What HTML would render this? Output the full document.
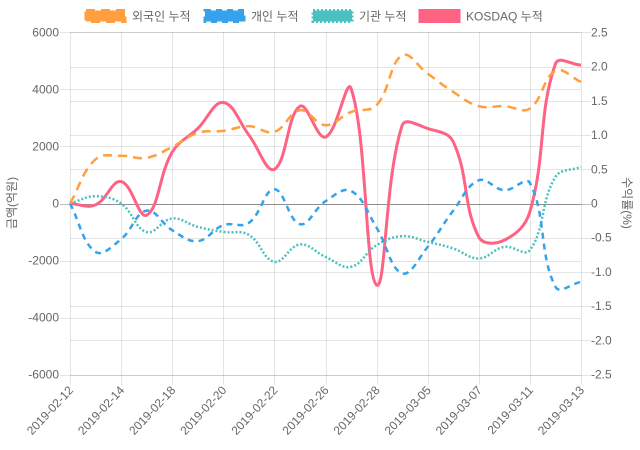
<!DOCTYPE html>
<html>
<head>
<meta charset="utf-8">
<style>
html,body{margin:0;padding:0;background:#fff;}
svg{display:block;}
text{font-family:"Liberation Sans","Noto Sans CJK KR",sans-serif;font-size:12px;fill:#666;}
</style>
</head>
<body>
<svg id="c" width="640" height="450" viewBox="0 0 640 450" xmlns="http://www.w3.org/2000/svg">
<rect x="0" y="0" width="640" height="450" fill="#fff"/>
<g id="grid"></g>
<g id="labels"></g>
<g id="series"></g>
<g id="legend">
  <rect x="86" y="10.5" width="39" height="11" fill="rgb(255,159,64)" stroke="rgb(255,159,64)" stroke-width="3" stroke-dasharray="9,6"/>
  <text x="132" y="20.5">외국인 누적</text>
  <rect x="205" y="10.5" width="39" height="11" fill="rgb(54,162,235)" stroke="rgb(54,162,235)" stroke-width="3" stroke-dasharray="6,5"/>
  <text x="251" y="20.5">개인 누적</text>
  <rect x="313" y="10.5" width="39" height="11" fill="rgb(75,192,192)" stroke="rgb(75,192,192)" stroke-width="3" stroke-dasharray="2,2"/>
  <text x="359" y="20.5">기관 누적</text>
  <rect x="420" y="10.5" width="39" height="11" fill="rgb(255,99,132)" stroke="rgb(255,99,132)" stroke-width="3"/>
  <text x="466" y="20.5">KOSDAQ 누적</text>
</g>
<text transform="translate(16,203) rotate(-90)" text-anchor="middle">금액(억원)</text>
<text transform="translate(623,203) rotate(90)" text-anchor="middle">수익률(%)</text>
</svg>
<script>
(function(){
  var NS="http://www.w3.org/2000/svg";
  var L=70,R=581,T=32.3,B=374.7,H=B-T;
  function el(tag,attrs,parent,txt){var e=document.createElementNS(NS,tag);for(var k in attrs)e.setAttribute(k,attrs[k]);if(txt!=null)e.textContent=txt;parent.appendChild(e);return e;}
  var grid=document.getElementById('grid'),labels=document.getElementById('labels'),series=document.getElementById('series');
  function yl(v){return T+(6000-v)/12000*H;}
  function yr(v){return T+(2.5-v)/5*H;}
  var n=21,dx=(R-L)/(n-1);
  function xi(i){return L+i*dx;}
  // right axis grid lines
  for(var k=0;k<=10;k++){
    var v=2.5-k*0.5, y=Math.round(yr(v))+0.5;
    var zero=Math.abs(v)<1e-9;
    el('line',{x1:L,x2:R+10,y1:y,y2:y,stroke:zero?'rgba(0,0,0,0.25)':'rgba(0,0,0,0.1)','stroke-width':1},grid);
    el('text',{x:591,y:yr(v)+4,'text-anchor':'start'},labels,zero?'0':v.toFixed(1));
  }
  // left axis grid lines
  for(var k=0;k<=6;k++){
    var v=6000-k*2000, y=Math.round(yl(v))+0.5;
    var zero=v===0;
    el('line',{x1:L-10,x2:R,y1:y,y2:y,stroke:zero?'rgba(0,0,0,0.25)':'rgba(0,0,0,0.1)','stroke-width':1},grid);
    el('text',{x:59,y:yl(v)+4,'text-anchor':'end'},labels,String(v));
  }
  // vertical grid lines
  var dates=['2019-02-12','2019-02-14','2019-02-18','2019-02-20','2019-02-22','2019-02-26','2019-02-28','2019-03-05','2019-03-07','2019-03-11','2019-03-13'];
  for(var k=0;k<=10;k++){
    var x=Math.round(xi(k*2))+0.5;
    el('line',{x1:x,x2:x,y1:T,y2:B+10,stroke:'rgba(0,0,0,0.1)','stroke-width':1},grid);
    el('text',{transform:'translate('+(xi(k*2)+1)+',388) rotate(-47)','text-anchor':'end',y:4},labels,dates[k]);
  }
  function pathFor(pts){
    var t=0.4,cps=[],N=pts.length;
    for(var i=0;i<N;i++){
      var prev=pts[i-1]||pts[i],cur=pts[i],next=pts[i+1]||pts[i];
      var d01=Math.hypot(cur.x-prev.x,cur.y-prev.y),d12=Math.hypot(next.x-cur.x,next.y-cur.y);
      var s01=d01/(d01+d12),s12=d12/(d01+d12);
      if(isNaN(s01))s01=0;if(isNaN(s12))s12=0;
      var fa=t*s01,fb=t*s12;
      var c={px:cur.x-fa*(next.x-prev.x),py:cur.y-fa*(next.y-prev.y),nx:cur.x+fb*(next.x-prev.x),ny:cur.y+fb*(next.y-prev.y)};
      c.px=Math.min(Math.max(c.px,L),R);c.nx=Math.min(Math.max(c.nx,L),R);
      c.py=Math.min(Math.max(c.py,T),B);c.ny=Math.min(Math.max(c.ny,T),B);
      cps.push(c);
    }
    var d='M'+pts[0].x.toFixed(2)+','+pts[0].y.toFixed(2);
    for(var i=1;i<N;i++){
      d+=' C'+cps[i-1].nx.toFixed(2)+','+cps[i-1].ny.toFixed(2)+' '+cps[i].px.toFixed(2)+','+cps[i].py.toFixed(2)+' '+pts[i].x.toFixed(2)+','+pts[i].y.toFixed(2);
    }
    return d;
  }
  var foreign=[0,1550,1675,1600,1985,2475,2545,2710,2510,3270,2745,3210,3445,5195,4550,3910,3410,3410,3330,4650,4260];
  var indiv=[0,-1695,-1250,-250,-935,-1320,-760,-680,500,-725,80,440,-850,-2450,-1520,-250,815,465,720,-2920,-2745];
  var inst=[0,255,0,-1000,-525,-820,-995,-1100,-2045,-1435,-1870,-2220,-1460,-1145,-1345,-1575,-1925,-1520,-1635,930,1280];
  var kosdaq=[0,-0.02,0.32,-0.17,0.75,1.095,1.475,1.0,0.5,1.42,0.97,1.68,-1.19,1.14,1.095,0.9,-0.49,-0.535,-0.12,2.04,2.02];
  function pts(arr,f){return arr.map(function(v,i){return {x:xi(i),y:f(v)};});}
  el('path',{d:pathFor(pts(kosdaq,yr)),fill:'none',stroke:'rgb(255,99,132)','stroke-width':3},series);
  el('path',{d:pathFor(pts(inst,yl)),fill:'none',stroke:'rgb(75,192,192)','stroke-width':2.5,'stroke-dasharray':'2,2'},series);
  el('path',{d:pathFor(pts(indiv,yl)),fill:'none',stroke:'rgb(54,162,235)','stroke-width':2.5,'stroke-dasharray':'6,5'},series);
  el('path',{d:pathFor(pts(foreign,yl)),fill:'none',stroke:'rgb(255,159,64)','stroke-width':2.5,'stroke-dasharray':'9,6'},series);
})();
</script>
</body>
</html>
